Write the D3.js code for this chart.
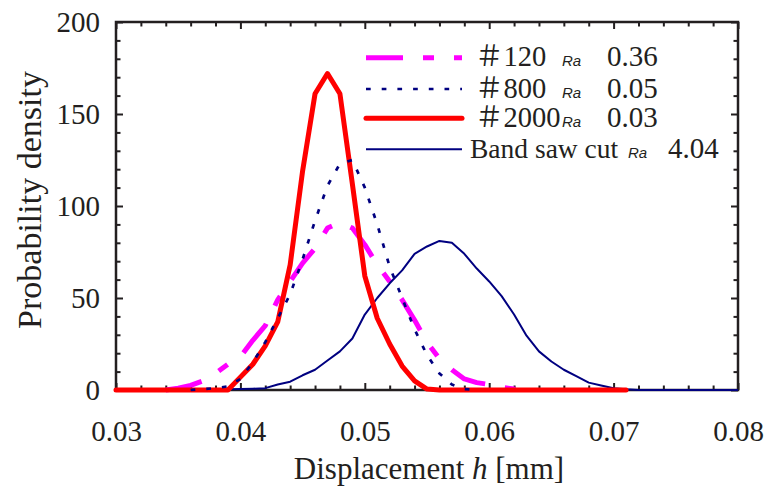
<!DOCTYPE html>
<html>
<head>
<meta charset="utf-8">
<script src="https://cdn.jsdelivr.net/npm/d3@7"></script>
<style>
  body { margin: 0; background: #fff; }
  svg { display: block; }
</style>
</head>
<body>
<svg id="chart" width="766" height="500"></svg>
<script>
// Displacement (mm) and probability density for each surface finish
const h120 = [0.034, 0.035, 0.036, 0.037, 0.038, 0.039, 0.040, 0.041, 0.042, 0.043, 0.044, 0.045, 0.046, 0.047, 0.048, 0.049, 0.050, 0.051, 0.052, 0.053, 0.054, 0.055, 0.056, 0.057, 0.058, 0.059, 0.060, 0.061, 0.062, 0.063];
const p120 = [0, 1, 2.5, 5, 9, 14, 18, 27, 35, 49, 59, 69, 77, 88, 91, 88, 79, 68, 59, 49, 38, 26, 17, 11, 6, 4, 3, 1.5, 0.5, 0];

const h800 = [0.036, 0.037, 0.038, 0.039, 0.040, 0.041, 0.042, 0.043, 0.044, 0.045, 0.046, 0.047, 0.048, 0.049, 0.050, 0.051, 0.052, 0.053, 0.054, 0.055, 0.056, 0.057, 0.058, 0.059];
const p800 = [0, 0.5, 1, 2, 6, 15, 26, 39, 52, 71, 92, 111, 123, 125, 110, 90, 67, 50, 33, 19, 9, 3, 0.5, 0];

const h2000 = [0.030, 0.035, 0.039, 0.040, 0.041, 0.042, 0.043, 0.044, 0.045, 0.046, 0.047, 0.048, 0.049, 0.050, 0.051, 0.052, 0.053, 0.054, 0.055, 0.056, 0.071];
const p2000 = [0, 0, 0, 7, 14, 24, 37, 68, 119, 161, 172, 161, 112, 62, 39, 25, 13, 5, 0.5, 0, 0];

const hSaw = [0.036, 0.040, 0.041, 0.042, 0.043, 0.044, 0.045, 0.046, 0.047, 0.048, 0.049, 0.050, 0.051, 0.052, 0.053, 0.054, 0.055, 0.056, 0.057, 0.058, 0.059, 0.060, 0.061, 0.062, 0.063, 0.064, 0.065, 0.066, 0.067, 0.068, 0.069, 0.070, 0.071, 0.072, 0.080];
const pSaw = [0, 0.5, 0.7, 1, 3, 4.5, 8, 11, 16, 21, 28, 41, 50, 58, 65, 74, 78, 81, 80, 74, 66, 59, 51, 41, 29.5, 21, 15.5, 11, 7.5, 4, 2.5, 1, 0.4, 0, 0];

const xMajor = [0.03, 0.04, 0.05, 0.06, 0.07, 0.08];
const yMajor = [0, 50, 100, 150, 200];

const legendNames = ["\uFF03120", "\uFF03800", "\uFF032000", "Band saw cut"];
const legendRa = ["0.36", "0.05", "0.03", "4.04"];

const series = [
  { name: legendNames[0], ra: legendRa[0], h: h120, p: p120, color: "#ff00ff", width: 5, dash: "37,20,11,20", cap: "butt" },
  { name: legendNames[1], ra: legendRa[1], h: h800, p: p800, color: "#000080", width: 2.7, dash: "4.7,11", cap: "butt" },
  { name: legendNames[2], ra: legendRa[2], h: h2000, p: p2000, color: "#ff0000", width: 5, dash: null, cap: "round" },
  { name: legendNames[3], ra: legendRa[3], h: hSaw, p: pSaw, color: "#000080", width: 2, dash: null, cap: "butt" }
];

const svg = d3.select("#chart");
const plotL = 116, plotR = 738, plotT = 22, plotB = 390;
const x = d3.scaleLinear().domain([0.03, 0.08]).range([plotL, plotR]);
const y = d3.scaleLinear().domain([0, 200]).range([plotB, plotT]);

const axisColor = "#231f20";
const serif = "'Liberation Serif', 'Times New Roman', 'Noto Sans CJK JP', serif";

const xMinor = d3.range(0, 26).map(i => +(0.03 + i * 0.002).toFixed(3)).filter(v => !xMajor.some(m => Math.abs(m - v) < 1e-9));
const yMinor = d3.range(0, 21).map(i => i * 10).filter(v => v % 50 !== 0);

function styleAxis(g) {
  g.select(".domain").remove();
  g.selectAll(".tick line").attr("stroke", axisColor).attr("stroke-width", 2);
  g.selectAll(".tick text").attr("fill", axisColor).style("font-family", serif).style("font-size", "29px");
}

// inward ticks on all four sides
const axes = svg.append("g");
axes.append("g").attr("transform", `translate(0,${plotB})`)
  .call(d3.axisBottom(x).tickValues(xMinor).tickSize(-4.5).tickFormat("")).call(styleAxis);
axes.append("g").attr("transform", `translate(0,${plotB})`)
  .call(d3.axisBottom(x).tickValues(xMajor).tickSize(-7).tickPadding(30).tickFormat(d3.format(".2f"))).call(styleAxis);
axes.append("g").attr("transform", `translate(0,${plotT})`)
  .call(d3.axisTop(x).tickValues(xMinor).tickSize(-4.5).tickFormat("")).call(styleAxis);
axes.append("g").attr("transform", `translate(0,${plotT})`)
  .call(d3.axisTop(x).tickValues(xMajor).tickSize(-7).tickFormat("")).call(styleAxis);

axes.append("g").attr("transform", `translate(${plotL},0)`)
  .call(d3.axisLeft(y).tickValues(yMinor).tickSize(-4.5).tickFormat("")).call(styleAxis);
axes.append("g").attr("transform", `translate(${plotL},0)`)
  .call(d3.axisLeft(y).tickValues(yMajor).tickSize(-7).tickPadding(16).tickFormat(d3.format("d"))).call(styleAxis);
axes.append("g").attr("transform", `translate(${plotR},0)`)
  .call(d3.axisRight(y).tickValues(yMinor).tickSize(-4.5).tickFormat("")).call(styleAxis);
axes.append("g").attr("transform", `translate(${plotR},0)`)
  .call(d3.axisRight(y).tickValues(yMajor).tickSize(-7).tickFormat("")).call(styleAxis);

axes.append("rect")
  .attr("x", plotL).attr("y", plotT).attr("width", plotR - plotL).attr("height", plotB - plotT)
  .attr("fill", "none").attr("stroke", axisColor).attr("stroke-width", 2.5);

// density curves
const line = d3.line().x(d => x(d[0])).y(d => y(d[1]));
const drawOrder = [0, 3, 2, 1];
svg.append("g").selectAll("path").data(drawOrder.map(i => series[i])).join("path")
  .attr("d", s => line(s.h.map((v, i) => [v, s.p[i]])))
  .attr("fill", "none")
  .attr("stroke", s => s.color)
  .attr("stroke-width", s => s.width)
  .attr("stroke-dasharray", s => s.dash)
  .attr("stroke-linecap", s => s.cap)
  .attr("stroke-linejoin", "round");

// legend
const legend = svg.append("g");
const rowY = [57.7, 89, 118.3, 149.3];
series.forEach((s, i) => {
  const yy = rowY[i];
  legend.append("line")
    .attr("x1", 366).attr("x2", 462).attr("y1", yy).attr("y2", yy)
    .attr("stroke", s.color).attr("stroke-width", s.width)
    .attr("stroke-dasharray", s.dash).attr("stroke-linecap", s.cap);
  const base = yy + 8.5;
  legend.append("text").attr("x", i === 3 ? 470 : 475).attr("y", base)
    .style("font-family", serif).style("font-size", i === 3 ? "27.5px" : "28.5px").attr("fill", "#231f20")
    .text(s.name);
  legend.append("text").attr("x", i === 3 ? 628 : 562).attr("y", base)
    .style("font-family", "'Liberation Sans', Arial, sans-serif").style("font-size", "15px")
    .style("font-style", "italic").attr("fill", "#231f20")
    .text("Ra");
  legend.append("text").attr("x", i === 3 ? 668 : 607).attr("y", base)
    .style("font-family", serif).style("font-size", "29px").attr("fill", "#231f20")
    .text(s.ra);
});

// axis titles
const xt = svg.append("text").attr("x", 429).attr("y", 479).attr("text-anchor", "middle")
  .style("font-family", serif).style("font-size", "31px").attr("fill", "#231f20");
xt.append("tspan").text("Displacement ");
xt.append("tspan").style("font-style", "italic").text("h");
xt.append("tspan").text(" [mm]");

svg.append("text").attr("transform", "translate(41,200) rotate(-90)").attr("text-anchor", "middle")
  .style("font-family", serif).style("font-size", "34px").attr("fill", "#231f20")
  .text("Probability density");
</script>
</body>
</html>
